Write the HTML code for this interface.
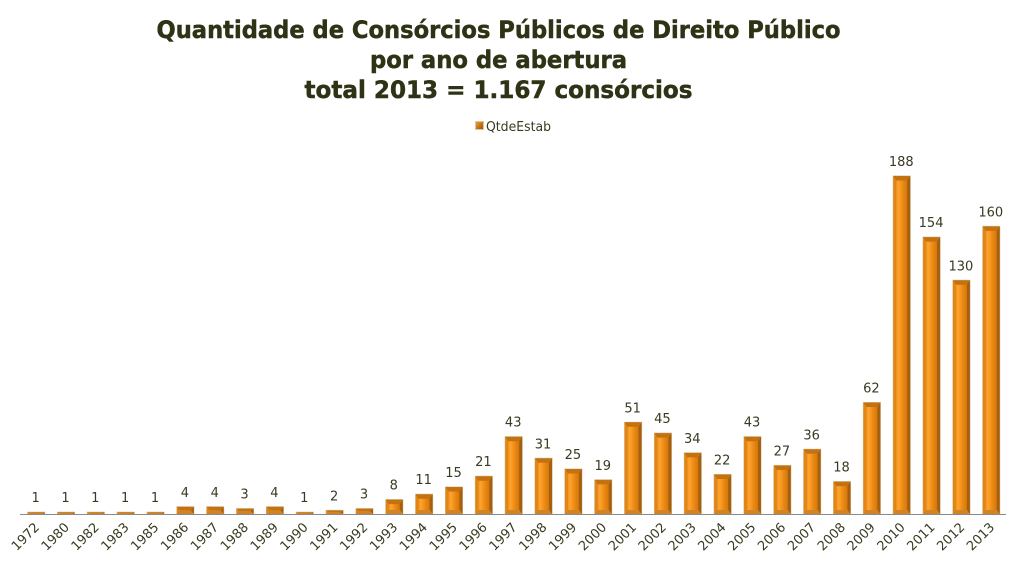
<!DOCTYPE html>
<html lang="pt">
<head>
<meta charset="utf-8">
<title>Quantidade de Consórcios Públicos de Direito Público</title>
<style>
html,body{margin:0;padding:0;background:#fff;width:1021px;height:561px;overflow:hidden}
svg{display:block}
text{font-family:"DejaVu Sans","Liberation Sans",sans-serif;fill:#3a3a22}
.t{font-family:"DejaVu Sans","Liberation Sans",sans-serif;font-weight:bold;font-size:24px;fill:#2f3316;stroke:#2f3316;stroke-width:0.5px}
</style>
</head>
<body>
<svg id="chart" xmlns="http://www.w3.org/2000/svg" width="1021" height="561" viewBox="0 0 1021 561">
<defs>
<linearGradient id="barFill" x1="0" x2="1" y1="0" y2="0">
<stop offset="0" stop-color="#d97c12"/>
<stop offset="0.3" stop-color="#ffa32f"/>
<stop offset="0.6" stop-color="#e98710"/>
<stop offset="1" stop-color="#c26c0c"/>
</linearGradient>
<linearGradient id="legendFill" x1="0" x2="1" y1="0" y2="1">
<stop offset="0" stop-color="#ffa12e"/>
<stop offset="1" stop-color="#8f4f08"/>
</linearGradient>
</defs>
<g>
<text class="t" x="498.5" y="38" text-anchor="middle" textLength="684" lengthAdjust="spacingAndGlyphs">Quantidade de Consórcios Públicos de Direito Público</text>
<text class="t" x="498.5" y="68" text-anchor="middle" textLength="257" lengthAdjust="spacingAndGlyphs">por ano de abertura</text>
<text class="t" x="498.5" y="98" text-anchor="middle" textLength="388" lengthAdjust="spacingAndGlyphs">total 2013 = 1.167 consórcios</text>
</g>
<g>
<rect x="475.500" y="121.500" width="8" height="8" fill="url(#legendFill)" stroke="#d8c4a8" stroke-width="1"/>
<text x="486" y="131" font-size="13" textLength="65" lengthAdjust="spacingAndGlyphs">QtdeEstab</text>
</g>
<g id="bars"></g>
<g id="values"></g>
<g id="ticks"></g>
<line x1="20" y1="514.500" x2="1006" y2="514.500" stroke="#8a8a8a" stroke-width="1"/>
</svg>
<script>
const categories = ["1972","1980","1982","1983","1985","1986","1987","1988","1989","1990","1991","1992","1993","1994","1995","1996","1997","1998","1999","2000","2001","2002","2003","2004","2005","2006","2007","2008","2009","2010","2011","2012","2013"];
const seriesValues = [1,1,1,1,1,4,4,3,4,1,2,3,8,11,15,21,43,31,25,19,51,45,34,22,43,27,36,18,62,188,154,130,160];

const NS = 'http://www.w3.org/2000/svg';
const plotLeft = 21.2, plotRight = 1006.2, baseY = 514, pxPerUnit = 338 / 188, barW = 17;
const xBand = (plotRight - plotLeft) / categories.length;
function xScale(i) { return plotLeft + xBand * (i + 0.5); }
function yScale(v) { return baseY - v * pxPerUnit; }
function make(tag, attrs, parent) {
  const el = document.createElementNS(NS, tag);
  for (const k in attrs) el.setAttribute(k, attrs[k]);
  parent.appendChild(el);
  return el;
}
const barsG = document.getElementById('bars');
const valuesG = document.getElementById('values');
const ticksG = document.getElementById('ticks');
seriesValues.forEach(function (v, i) {
  const cx = xScale(i), top = yScale(v), l = cx - barW / 2, r = cx + barW / 2, h = baseY - top;
  const bev = Math.min(4.5, h / 2), bevB = Math.min(4, h / 2), side = 3;
  const g = make('g', {}, barsG);
  
  
  make('rect', { x: l, y: top, width: barW, height: h, fill: 'url(#barFill)', stroke: '#d6c2a4', 'stroke-width': 1 }, g);
  make('polygon', { points: [r, top, r, baseY, r - side, baseY - bevB, r - side, top + bev].join(' '), fill: '#a5600f' }, g);
  make('polygon', { points: [l, top, l, baseY, l + side, baseY - bevB, l + side, top + bev].join(' '), fill: '#e08614' }, g);
  make('polygon', { points: [l, top, r, top, r - side, top + bev, l + side, top + bev].join(' '), fill: '#c4720f' }, g);
  make('polygon', { points: [l, baseY, r, baseY, r - side, baseY - bevB, l + side, baseY - bevB].join(' '), fill: '#cf8428' }, g);

  const val = make('text', { x: cx - 0.5, y: top - 10, 'text-anchor': 'middle', 'font-size': 13 }, valuesG);
  
  
  val.textContent = v;

  const tx = cx + 4, ty = 528;
  const tick = make('text', { x: tx, y: ty, 'text-anchor': 'end', 'font-size': 13, transform: 'rotate(-45 ' + tx + ' ' + ty + ')', textLength: 33, lengthAdjust: 'spacingAndGlyphs' }, ticksG);
  
  
  tick.textContent = categories[i];
});
</script>
</body>
</html>
